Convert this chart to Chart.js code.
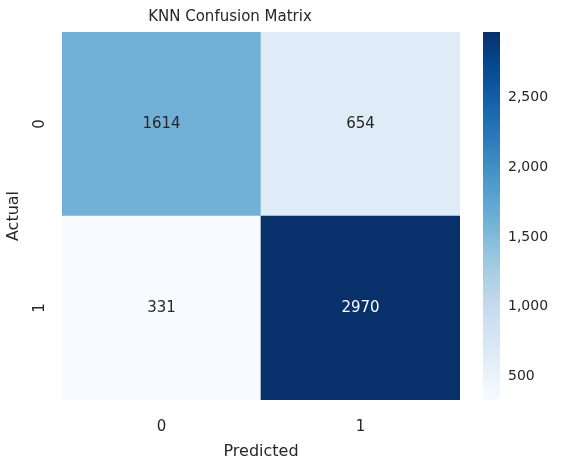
<!DOCTYPE html>
<html>
<head>
<meta charset="utf-8">
<script src="https://cdn.jsdelivr.net/npm/chart.js@4"></script>
<style>
  body { margin: 0; background: #fff; }
  #main { position: absolute; left: 0; top: 0; }
  #bar { position: absolute; left: 470px; top: 0; }
</style>
</head>
<body>
<canvas id="main" width="470" height="463"></canvas>
<canvas id="bar" width="93" height="463"></canvas>
<script>
// confusion matrix data
const predictedLabels = ['0', '1'];
const actualLabels = ['0', '1'];
const row0 = [1614, 654];   // actual 0
const row1 = [331, 2970];   // actual 1
const colorbarTicks = [500, 1000, 1500, 2000, 2500];

const vmin = Math.min(...row0, ...row1);
const vmax = Math.max(...row0, ...row1);
const FONT = "'DejaVu Sans', sans-serif";
const INK = '#262626';

// matplotlib Blues
const blues = ['#f7fbff', '#deebf7', '#c6dbef', '#9ecae1', '#6baed6', '#4292c6', '#2171b5', '#08519c', '#08306b'];
function hex(c) { return [1, 3, 5].map(i => parseInt(c.substr(i, 2), 16)); }
function bluesAt(t) {
    t = Math.max(0, Math.min(1, t)) * (blues.length - 1);
    const i = Math.min(Math.floor(t), blues.length - 2), f = t - i;
    const a = hex(blues[i]), b = hex(blues[i + 1]);
    return 'rgb(' + a.map((v, k) => Math.round(v + (b[k] - v) * f)).join(',') + ')';
}
const norm = v => (v - vmin) / (vmax - vmin);

const cellText = {
    id: 'cellText',
    afterDatasetsDraw(chart) {
        const ctx = chart.ctx;
        ctx.save();
        ctx.font = '15px ' + FONT;
        ctx.textAlign = 'center';
        ctx.textBaseline = 'middle';
        chart.data.datasets.forEach((ds, di) => {
            chart.getDatasetMeta(di).data.forEach((el, i) => {
                const v = ds.counts[i];
                ctx.fillStyle = norm(v) > 0.5 ? '#ffffff' : INK;
                const y = (el.y + el.base) / 2;
                ctx.fillText(String(v), el.x, y);
            });
        });
        // rotated y tick labels
        const ys = chart.scales.y;
        ctx.fillStyle = INK;
        actualLabels.forEach((lab, i) => {
            const py = ys.getPixelForValue(actualLabels.length - i - 0.5);
            ctx.save();
            ctx.translate(ys.right - 22, py);
            ctx.rotate(-Math.PI / 2);
            ctx.fillText(lab, 0, 0);
            ctx.restore();
        });
        ctx.restore();
    }
};

new Chart(document.getElementById('main'), {
    type: 'bar',
    data: {
        labels: predictedLabels,
        datasets: [
            { counts: row1, data: row1.map(() => 1), backgroundColor: row1.map(v => bluesAt(norm(v))) },
            { counts: row0, data: row0.map(() => 1), backgroundColor: row0.map(v => bluesAt(norm(v))) }
        ]
    },
    options: {
        responsive: false,
        devicePixelRatio: 1,
        animation: false,
        layout: { padding: { left: 0, right: 10 } },
        plugins: {
            legend: { display: false },
            tooltip: { enabled: false },
            title: {
                display: true, text: 'KNN Confusion Matrix', color: INK,
                font: { family: FONT, size: 15, weight: 'normal' },
                padding: { top: 8, bottom: 6 }
            }
        },
        datasets: { bar: { barPercentage: 1, categoryPercentage: 1, borderWidth: 0 } },
        scales: {
            x: {
                stacked: true,
                grid: { display: false }, border: { display: false },
                ticks: { color: INK, font: { family: FONT, size: 15 }, padding: 10 },
                title: { display: true, text: 'Predicted', color: INK, font: { family: FONT, size: 16 }, padding: 2 },
                afterFit: s => { s.height = 63; }
            },
            y: {
                stacked: true, min: 0, max: 2,
                grid: { display: false }, border: { display: false },
                ticks: { display: false },
                title: { display: true, text: 'Actual', color: INK, font: { family: FONT, size: 16 }, padding: 4 },
                afterFit: s => { s.width = 62; }
            }
        }
    },
    plugins: [cellText]
});

// colorbar
new Chart(document.getElementById('bar'), {
    type: 'bar',
    data: {
        labels: [''],
        datasets: [{
            data: [[vmin, vmax]],
            borderWidth: 0,
            backgroundColor(c) {
                const area = c.chart.chartArea;
                if (!area) return blues[4];
                const g = c.chart.ctx.createLinearGradient(0, area.bottom, 0, area.top);
                for (let k = 0; k <= 20; k++) g.addColorStop(k / 20, bluesAt(k / 20));
                return g;
            }
        }]
    },
    options: {
        responsive: false,
        devicePixelRatio: 1,
        animation: false,
        layout: { padding: { left: 13, top: 32, bottom: 63 } },
        plugins: { legend: { display: false }, tooltip: { enabled: false } },
        datasets: { bar: { barPercentage: 1, categoryPercentage: 1 } },
        scales: {
            x: { display: false },
            y: {
                position: 'right', min: vmin, max: vmax,
                grid: { display: false, drawTicks: false }, border: { display: false },
                afterBuildTicks: s => { s.ticks = colorbarTicks.map(v => ({ value: v })); },
                ticks: { color: INK, font: { family: FONT, size: 14 }, padding: 8 },
                afterFit: s => { s.width = 63; }
            }
        }
    }
});
</script>
</body>
</html>
